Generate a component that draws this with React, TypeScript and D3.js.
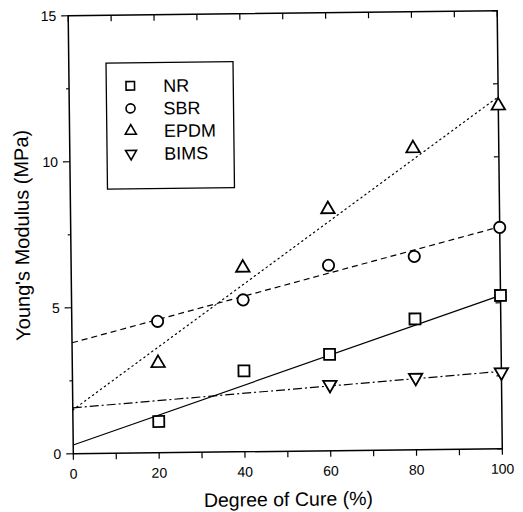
import React from "react";
import * as d3 from "d3";

const xTicksMajor = [0, 20, 40, 60, 80, 100];
const xTicksAll = [0, 10, 20, 30, 40, 50, 60, 70, 80, 90, 100];
const yTicksMajor = [0, 5, 10, 15];
const yTicksAll = [0, 2.5, 5, 7.5, 10, 12.5, 15];

const cure = [20, 40, 60, 80, 100];
const nrValues = [1.07, 2.77, 3.3, 4.48, 5.25];
const sbrValues = [4.5, 5.2, 6.35, 6.62, 7.58];
const epdmValues = [3.07, 6.3, 8.27, 10.32, 11.75];
const bimsCure = [60, 80, 100];
const bimsValues = [2.26, 2.47, 2.62];

const fitX = [0, 100];
const nrFit = [0.3, 5.25];
const sbrFit = [3.8, 7.6];
const epdmFit = [1.5, 12.05];
const bimsFit = [1.57, 2.65];

const seriesNames = ["NR", "SBR", "EPDM", "BIMS"];

const W = 523, H = 512;
const L = 70.75, R = 499.75, T = 13.25, B = 451.25;
const FONT = "'Liberation Sans', Arial, Helvetica, sans-serif";

export default function App() {
  const x = d3.scaleLinear().domain([0, 100]).range([L, R]);
  const y = d3.scaleLinear().domain([0, 15]).range([B, T]);
  const line = d3.line<[number, number]>().x(d => x(d[0])).y(d => y(d[1]));

  const sq = d3.symbol(d3.symbolSquare, 121)()!;
  const ci = d3.symbol(d3.symbolCircle, 100)()!;
  const tri = d3.symbol(d3.symbolTriangle, 78)()!;
  const sqL = d3.symbol(d3.symbolSquare, 72)()!;
  const ciL = d3.symbol(d3.symbolCircle, 64)()!;
  const triL = d3.symbol(d3.symbolTriangle, 52)()!;

  const fits = [
    { v: nrFit, dash: "none" },
    { v: sbrFit, dash: "6,4" },
    { v: epdmFit, dash: "1.3,3.6" },
    { v: bimsFit, dash: "9,3,2,3" },
  ];

  const markerSets = [
    { xs: cure, ys: nrValues, path: sq, rot: 0 },
    { xs: cure, ys: sbrValues, path: ci, rot: 0 },
    { xs: cure, ys: epdmValues, path: tri, rot: 0 },
    { xs: bimsCure, ys: bimsValues, path: tri, rot: 180 },
  ];
  const legendPaths = [
    { path: sqL, rot: 0 },
    { path: ciL, rot: 0 },
    { path: triL, rot: 0 },
    { path: triL, rot: 180 },
  ];

  const cx = (L + R) / 2, cy = (T + B) / 2;

  return (
    <svg width={W} height={H} style={{ position: "absolute", left: 0, top: 0, background: "#fff" }}>
      <rect width={W} height={H} fill="#fff" />
      <g transform={`rotate(-0.67, ${cx}, ${cy})`} fontFamily={FONT} fill="none" stroke="#000">
        <rect x={L} y={T} width={R - L} height={B - T} strokeWidth={1.5} />
        {xTicksAll.map(t => (
          <line key={"bx" + t} x1={x(t)} x2={x(t)} y1={B} y2={B + 6} strokeWidth={1.2} />
        ))}
        {xTicksAll.map(t => (
          <line key={"tx" + t} x1={x(t)} x2={x(t)} y1={T} y2={T + 6} strokeWidth={1.2} />
        ))}
        {yTicksAll.map(t => (
          <line key={"ly" + t} x1={L} x2={L - (yTicksMajor.includes(t) ? 7 : 3)} y1={y(t)} y2={y(t)} strokeWidth={1.2} />
        ))}
        {yTicksAll.map(t => (
          <line key={"ry" + t} x1={R} x2={R - 5} y1={y(t)} y2={y(t)} strokeWidth={1.2} />
        ))}
        {xTicksMajor.map(t => (
          <text key={"xl" + t} x={x(t)} y={B + 25} textAnchor="middle" fontSize={14} fill="#000" stroke="none">{t}</text>
        ))}
        {yTicksMajor.map(t => (
          <text key={"yl" + t} x={L - 12} y={y(t) + 5} textAnchor="end" fontSize={14} fill="#000" stroke="none">{t}</text>
        ))}
        <text x={cx} y={506} textAnchor="middle" fontSize={19.5} fill="#000" stroke="none">Degree of Cure (%)</text>
        <text transform={`translate(29, ${cy}) rotate(-90)`} textAnchor="middle" fontSize={20} fill="#000" stroke="none">Young's Modulus (MPa)</text>
        {fits.map((f, i) => (
          <path key={"f" + i} d={line(fitX.map((xv, j) => [xv, f.v[j]] as [number, number]))!} strokeWidth={1.2}
            strokeDasharray={f.dash} strokeLinecap={i === 2 ? "round" : "butt"} />
        ))}
        {markerSets.map((m, i) =>
          m.xs.map((xv, j) => (
            <path key={"m" + i + "-" + j} d={m.path} transform={`translate(${x(xv)},${y(m.ys[j])}) rotate(${m.rot})`}
              fill="#fff" strokeWidth={1.8} />
          ))
        )}
        <rect x={108} y={61} width={127} height={126} strokeWidth={1.3} fill="#fff" />
        {seriesNames.map((name, i) => {
          const yy = 84 + i * 22.6;
          return (
            <g key={"lg" + i}>
              <path d={legendPaths[i].path} transform={`translate(132,${yy}) rotate(${legendPaths[i].rot})`} strokeWidth={1.6} fill="#fff" />
              <text x={165} y={yy + 6.5} fontSize={18} fill="#000" stroke="none">{name}</text>
            </g>
          );
        })}
      </g>
    </svg>
  );
}
